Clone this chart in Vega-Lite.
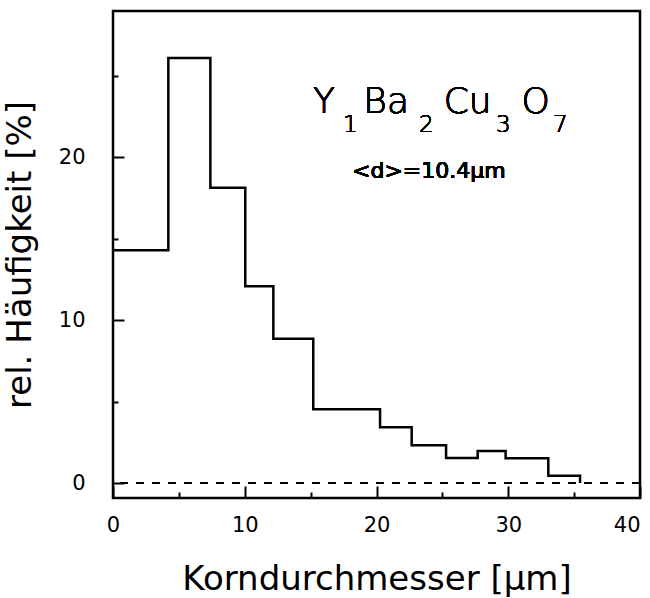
{
  "$schema": "https://vega.github.io/schema/vega-lite/v6.json",
  "width": 527,
  "height": 487,
  "autosize": {"type": "none"},
  "padding": {"left": 113, "top": 11, "right": 10, "bottom": 100},
  "background": "white",
  "config": {
    "view": {"stroke": "black", "strokeWidth": 2.5},
    "font": "DejaVu Sans",
    "axis": {
      "domain": false,
      "grid": false,
      "labelFont": "DejaVu Sans",
      "labelColor": "black",
      "labelFontWeight": "normal",
      "tickColor": "black",
      "tickWidth": 2,
      "titleColor": "black",
      "titleFont": "DejaVu Sans",
      "titleFontWeight": "normal"
    }
  },
  "resolve": {"axis": {"x": "independent", "y": "independent"}},
  "data": {
    "values": [
      {"d": 0, "h": 14.28},
      {"d": 4.2, "h": 26.07},
      {"d": 7.39, "h": 18.12},
      {"d": 10.04, "h": 12.07},
      {"d": 12.17, "h": 8.85},
      {"d": 15.2, "h": 4.52},
      {"d": 20.27, "h": 3.42},
      {"d": 22.67, "h": 2.31},
      {"d": 25.28, "h": 1.53},
      {"d": 27.68, "h": 1.96},
      {"d": 29.8, "h": 1.52},
      {"d": 33.04, "h": 0.45},
      {"d": 35.45, "h": 0}
    ]
  },
  "layer": [
    {
      "mark": {"type": "line", "interpolate": "step-after", "color": "black", "strokeWidth": 2.5},
      "encoding": {
        "x": {
          "field": "d",
          "type": "quantitative",
          "scale": {"domain": [0, 40], "nice": false, "zero": false},
          "axis": {
            "orient": "bottom",
            "values": [0, 10, 20, 30, 40],
            "tickSize": -12,
            "labelFontSize": 21,
            "labelPadding": 28,
            "labelFlush": false,
            "labelOverlap": false,
            "labelAlign": {"condition": {"test": "datum.value === 40", "value": "right"}, "value": "center"},
            "title": "Korndurchmesser [µm]",
            "titleFontSize": 34,
            "titlePadding": 27
          }
        },
        "y": {
          "field": "h",
          "type": "quantitative",
          "scale": {"domain": [-0.92, 28.96], "nice": false, "zero": false},
          "axis": {
            "orient": "left",
            "values": [0, 10, 20],
            "tickSize": -11,
            "labelFontSize": 21,
            "labelPadding": 39,
            "labelOverlap": false,
            "title": "rel. Häufigkeit [%]",
            "titleFontSize": 34,
            "titlePadding": 21
          }
        }
      }
    },
    {
      "mark": {"type": "rule", "strokeDash": [8, 8], "strokeWidth": 1.5, "color": "black"},
      "encoding": {"y": {"datum": 0, "axis": null}}
    },
    {
      "mark": {"type": "text", "align": "left", "baseline": "alphabetic", "fontSize": 36, "fontWeight": 300, "color": "black"},
      "encoding": {
        "x": {"datum": 15.18, "axis": {"orient": "bottom", "values": [5, 15, 25, 35], "tickSize": -6, "labels": false, "title": null}},
        "y": {"datum": 22.68, "axis": {"orient": "left", "values": [5, 15, 25], "tickSize": -5, "labels": false, "title": null}},
        "text": {"value": "Y"}
      }
    },
    {
      "mark": {"type": "text", "align": "left", "baseline": "alphabetic", "fontSize": 23, "fontWeight": 300, "color": "black"},
      "encoding": {"x": {"datum": 17.46, "axis": null}, "y": {"datum": 21.55, "axis": null}, "text": {"value": "1"}}
    },
    {
      "mark": {"type": "text", "align": "left", "baseline": "alphabetic", "fontSize": 36, "fontWeight": 300, "color": "black"},
      "encoding": {"x": {"datum": 19.0, "axis": null}, "y": {"datum": 22.68, "axis": null}, "text": {"value": "Ba"}}
    },
    {
      "mark": {"type": "text", "align": "left", "baseline": "alphabetic", "fontSize": 23, "fontWeight": 300, "color": "black"},
      "encoding": {"x": {"datum": 23.23, "axis": null}, "y": {"datum": 21.55, "axis": null}, "text": {"value": "2"}}
    },
    {
      "mark": {"type": "text", "align": "left", "baseline": "alphabetic", "fontSize": 36, "fontWeight": 300, "color": "black"},
      "encoding": {"x": {"datum": 25.1, "axis": null}, "y": {"datum": 22.68, "axis": null}, "text": {"value": "Cu"}}
    },
    {
      "mark": {"type": "text", "align": "left", "baseline": "alphabetic", "fontSize": 23, "fontWeight": 300, "color": "black"},
      "encoding": {"x": {"datum": 29.07, "axis": null}, "y": {"datum": 21.55, "axis": null}, "text": {"value": "3"}}
    },
    {
      "mark": {"type": "text", "align": "left", "baseline": "alphabetic", "fontSize": 36, "fontWeight": 300, "color": "black"},
      "encoding": {"x": {"datum": 31.0, "axis": null}, "y": {"datum": 22.68, "axis": null}, "text": {"value": "O"}}
    },
    {
      "mark": {"type": "text", "align": "left", "baseline": "alphabetic", "fontSize": 23, "fontWeight": 300, "color": "black"},
      "encoding": {"x": {"datum": 33.4, "axis": null}, "y": {"datum": 21.55, "axis": null}, "text": {"value": "7"}}
    },
    {
      "mark": {"type": "text", "align": "left", "baseline": "alphabetic", "fontSize": 22, "color": "black"},
      "encoding": {"x": {"datum": 18.14, "axis": null}, "y": {"datum": 18.71, "axis": null}, "text": {"value": "<d>=10.4µm"}}
    }
  ]
}
